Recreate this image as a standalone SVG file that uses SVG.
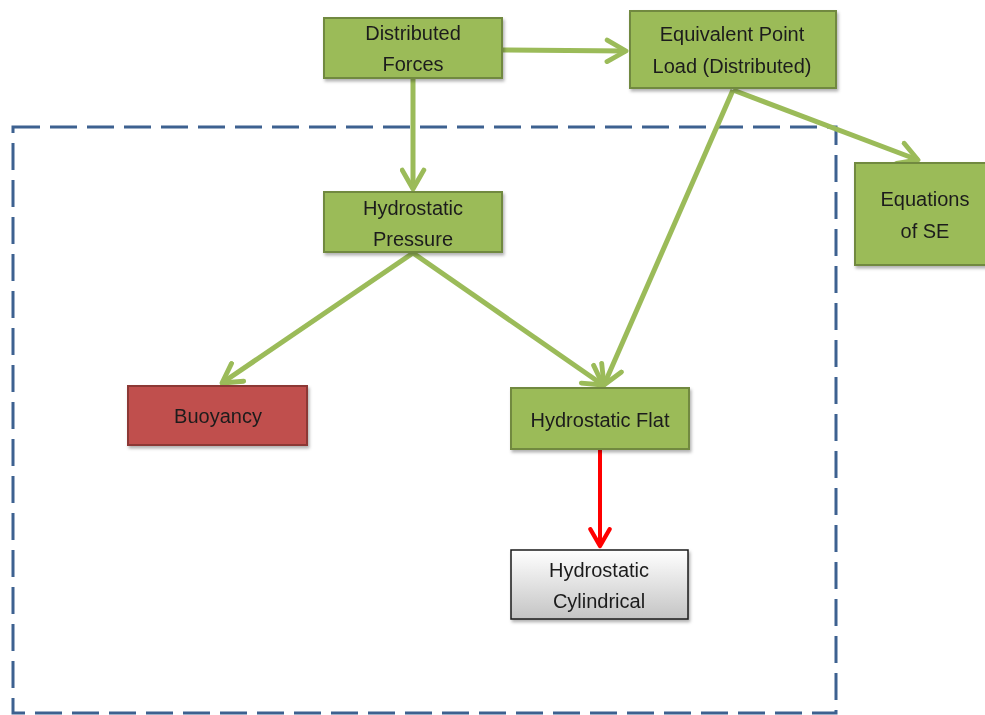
<svg xmlns="http://www.w3.org/2000/svg" width="985" height="715" viewBox="0 0 985 715">
  <style>
    .green { fill: #9bbb59; stroke: #71893f; stroke-width: 2; }
    .red { fill: #c0504d; stroke: #8c3836; stroke-width: 2; }
    .grey { fill: url(#greyGrad); stroke: #1a1a1a; stroke-width: 1.5; }
    .lbl { font-family: "Liberation Sans", Arial, sans-serif; font-size: 20px; fill: #1c1c1c; text-anchor: middle; }
    .conn { fill: none; stroke: #9bbb59; stroke-width: 5; marker-end: url(#arrowGreen); }
    .connRed { fill: none; stroke: #ff0000; stroke-width: 4; marker-end: url(#arrowRed); }
    .frame { fill: none; stroke: #3d6190; stroke-width: 3; stroke-dasharray: 27 10; }
  </style>
  <defs>
    <linearGradient id="greyGrad" x1="0" y1="0" x2="0" y2="1">
      <stop offset="0" stop-color="#ffffff"/>
      <stop offset="1" stop-color="#c4c4c4"/>
    </linearGradient>
    <filter id="shadow" x="-10%" y="-10%" width="130%" height="140%">
      <feDropShadow dx="1.5" dy="2.5" stdDeviation="1.5" flood-color="#000" flood-opacity="0.3"/>
    </filter>
    <marker id="arrowGreen" viewBox="0 0 10 10" refX="8" refY="5" markerWidth="5.4" markerHeight="5.4" orient="auto" markerUnits="strokeWidth">
      <path d="M1,1 L8,5 L1,9" fill="none" stroke="#9bbb59" stroke-width="1.8" stroke-linecap="round" stroke-linejoin="round"/>
    </marker>
    <marker id="arrowRed" viewBox="0 0 10 10" refX="8" refY="5" markerWidth="6" markerHeight="6" orient="auto" markerUnits="strokeWidth">
      <path d="M1,1 L8,5 L1,9" fill="none" stroke="#ff0000" stroke-width="1.8" stroke-linecap="round" stroke-linejoin="round"/>
    </marker>
  </defs>

  <rect width="985" height="715" fill="#ffffff"/>

  <!-- dashed system boundary -->
  <rect class="frame" x="13" y="127" width="823" height="586"/>

  <g id="connectors">
    <line class="conn" x1="502" y1="50" x2="626" y2="51"/>
    <line class="conn" x1="413" y1="78" x2="413" y2="189"/>
    <line class="conn" x1="733" y1="90" x2="918" y2="160"/>
    <line class="conn" x1="733" y1="90" x2="604" y2="385"/>
    <line class="conn" x1="413" y1="253" x2="222" y2="383"/>
    <line class="conn" x1="413" y1="253" x2="603" y2="385"/>
    <line class="connRed" x1="600" y1="449" x2="600" y2="546"/>
  </g>

  <g id="distributed-forces" filter="url(#shadow)">
    <rect class="green" x="324" y="18" width="178" height="60"/>
    <text class="lbl" x="413" y="40">Distributed</text>
    <text class="lbl" x="413" y="71">Forces</text>
  </g>

  <g id="equivalent-point-load" filter="url(#shadow)">
    <rect class="green" x="630" y="11" width="206" height="77"/>
    <text class="lbl" x="732" y="41">Equivalent Point</text>
    <text class="lbl" x="732" y="73">Load (Distributed)</text>
  </g>

  <g id="equations-of-se" filter="url(#shadow)">
    <rect class="green" x="855" y="163" width="140" height="102"/>
    <text class="lbl" x="925" y="206">Equations</text>
    <text class="lbl" x="925" y="238">of SE</text>
  </g>

  <g id="hydrostatic-pressure" filter="url(#shadow)">
    <rect class="green" x="324" y="192" width="178" height="60"/>
    <text class="lbl" x="413" y="215">Hydrostatic</text>
    <text class="lbl" x="413" y="246">Pressure</text>
  </g>

  <g id="buoyancy" filter="url(#shadow)">
    <rect class="red" x="128" y="386" width="179" height="59"/>
    <text class="lbl" x="218" y="423">Buoyancy</text>
  </g>

  <g id="hydrostatic-flat" filter="url(#shadow)">
    <rect class="green" x="511" y="388" width="178" height="61"/>
    <text class="lbl" x="600" y="427">Hydrostatic Flat</text>
  </g>

  <g id="hydrostatic-cylindrical" filter="url(#shadow)">
    <rect class="grey" x="511" y="550" width="177" height="69"/>
    <text class="lbl" x="599" y="577">Hydrostatic</text>
    <text class="lbl" x="599" y="608">Cylindrical</text>
  </g>
</svg>
